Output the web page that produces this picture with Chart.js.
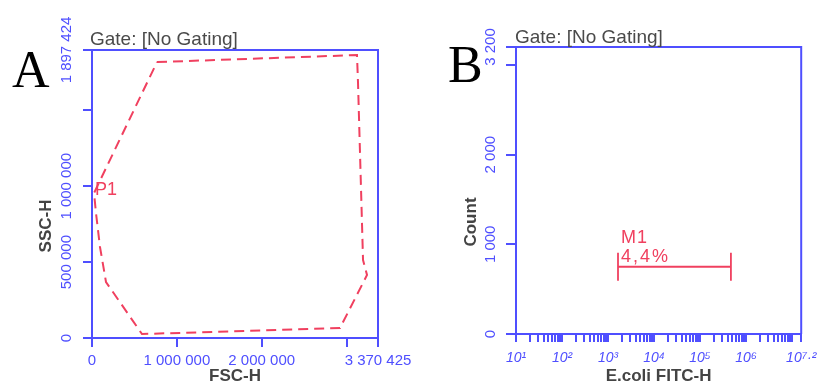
<!DOCTYPE html>
<html><head><meta charset="utf-8">
<script src="https://cdn.jsdelivr.net/npm/chart.js@4"></script>
<style>
html,body{margin:0;padding:0;background:#fff;}
body{width:817px;height:385px;position:relative;overflow:hidden;font-family:"Liberation Sans",Arial,sans-serif;}
.panel{position:absolute;top:0;height:385px;}
.txt{position:absolute;white-space:nowrap;}
.letter{font-family:"Liberation Serif","Times New Roman",serif;font-size:52px;line-height:52px;color:#000;}
.gate{font-size:19px;line-height:19px;color:#4a4a4a;}
.ytitle{font-size:17px;line-height:17px;font-weight:bold;color:#444;transform:translate(-50%,-50%) rotate(-90deg);}
</style></head><body>
<div class="panel" style="left:0;width:420px"><canvas id="cA" width="420" height="385"></canvas></div>
<div class="panel" style="left:420px;width:397px"><canvas id="cB" width="397" height="385"></canvas></div>
<div class="txt letter" style="left:12px;top:44px">A</div>
<div class="txt letter" style="left:448px;top:39px">B</div>
<div class="txt gate" style="left:90px;top:29px">Gate: [No Gating]</div>
<div class="txt gate" style="left:515px;top:27px">Gate: [No Gating]</div>
<div class="txt ytitle" style="left:45px;top:226px">SSC-H</div>
<div class="txt ytitle" style="left:470px;top:222px">Count</div>
<script>
// ---------- Panel A: FSC-H vs SSC-H gate ----------
const fscTicks = [0, 1000000, 2000000, 3000000, 3370425];
const fscTickLabels = ['0', '1 000 000', '2 000 000', '', '3 370 425'];
const sscTicks = [0, 500000, 1000000, 1500000, 1897424];
const sscTickLabels = ['0', '500 000', '1 000 000', '', '1 897 424'];
const gateName = 'P1';
const gateFSC = [766000, 3123000, 3135000, 3194000, 3241000, 2923000, 589000, 165000, 94000, 47000, 24000];
const gateSSC = [1818000, 1864000, 1680000, 514000, 415000, 66000, 26000, 369000, 600000, 824000, 955000];

// ---------- Panel B: E.coli FITC-H histogram ----------
const fitcDecades = [1, 2, 3, 4, 5, 6, 7];
const fitcMinor = [2, 3, 4, 5, 6, 7, 8, 9];
const fitcMaxExp = 7.2;
const fitcLabels = ['10¹', '10²', '10³', '10⁴', '10⁵', '10⁶', '', '10⁷·²'];
const countTicks = [0, 1000, 2000, 3000, 3200];
const countTickLabels = ['0', '1 000', '2 000', '', '3 200'];
const markerName = 'M1';
const markerPct = '4,4%';
const markerRange = [1650, 470000];
const markerCount = 750;

const BLUE = '#4f4fff';
const RED = '#f0405f';
const TICKFONT = '15px "Liberation Sans", Arial, sans-serif';

const frameAndYLabels = {
  id: 'frameAndYLabels',
  afterDraw(chart) {
    const {ctx, chartArea: a} = chart;
    const ys = chart.scales.y;
    ctx.save();
    ctx.strokeStyle = BLUE; ctx.lineWidth = 2;
    ctx.beginPath();
    ctx.moveTo(a.left, a.top); ctx.lineTo(a.right, a.top); ctx.lineTo(a.right, a.bottom);
    ctx.stroke();
    ctx.fillStyle = BLUE; ctx.font = TICKFONT;
    ctx.textAlign = 'center'; ctx.textBaseline = 'middle';
    ys.ticks.forEach(t => {
      if (!t.label) return;
      const py = ys.getPixelForValue(t.value);
      ctx.save();
      ctx.translate(a.left - 25, py);
      ctx.rotate(-Math.PI / 2);
      ctx.fillText(t.label, 0, 0);
      ctx.restore();
    });
    ctx.restore();
  }
};

const nameLabels = {
  id: 'nameLabels',
  afterDatasetsDraw(chart, args, o) {
    const {ctx} = chart;
    const xs = chart.scales.x, ys = chart.scales.y;
    ctx.save();
    ctx.fillStyle = RED;
    ctx.font = '18px "Liberation Sans", Arial, sans-serif';
    ctx.textAlign = 'left'; ctx.textBaseline = 'alphabetic';
    (o.items || []).forEach(it => {
      const px = xs.getPixelForValue(it.x), py = ys.getPixelForValue(it.y);
      ctx.letterSpacing = (it.spacing || 0) + 'px';
      ctx.fillText(it.text, px + it.dx, py + it.dy);
    });
    ctx.restore();
  }
};

function fixedTicks(values) {
  return scale => { scale.ticks = values.map(v => ({value: v})); };
}
function labelFrom(values, labels) {
  return value => { const i = values.indexOf(value); return i >= 0 ? labels[i] : ''; };
}

const gatePoints = gateFSC.map((x, i) => ({x, y: gateSSC[i]}));
gatePoints.push({x: gateFSC[0], y: gateSSC[0]});
const lastGate = gateFSC.length - 1;

new Chart(document.getElementById('cA'), {
  type: 'scatter',
  data: {datasets: [{
    data: gatePoints, showLine: true, borderColor: RED, borderWidth: 2,
    borderDash: [10, 6], pointRadius: 0, fill: false, tension: 0
  }]},
  options: {
    responsive: false, animation: false,
    layout: {padding: {left: 0, top: 50, right: 42, bottom: 0}},
    plugins: {
      legend: {display: false}, tooltip: {enabled: false},
      nameLabels: {items: [{text: gateName, x: gateFSC[lastGate], y: gateSSC[lastGate], dx: 1, dy: 2}]}
    },
    scales: {
      x: {
        type: 'linear', min: 0, max: fscTicks[fscTicks.length - 1],
        afterBuildTicks: fixedTicks(fscTicks),
        afterFit: s => { s.height = 47; s.paddingLeft = 0; s.paddingRight = 0; },
        ticks: {color: BLUE, font: {family: '"Liberation Sans", Arial, sans-serif', size: 15},
          padding: 5, autoSkip: false, maxRotation: 0, minRotation: 0,
          callback: labelFrom(fscTicks, fscTickLabels)},
        grid: {drawOnChartArea: false, tickLength: 9, color: BLUE, lineWidth: 2},
        border: {color: BLUE, width: 2},
        title: {display: true, text: 'FSC-H', color: '#444', padding: 0,
          font: {family: '"Liberation Sans", Arial, sans-serif', size: 17, weight: 'bold', lineHeight: 1}}
      },
      y: {
        type: 'linear', min: 0, max: sscTicks[sscTicks.length - 1],
        afterBuildTicks: fixedTicks(sscTicks),
        afterFit: s => { s.width = 92; s.paddingTop = 0; s.paddingBottom = 0; },
        ticks: {display: false, autoSkip: false, callback: labelFrom(sscTicks, sscTickLabels)},
        grid: {drawOnChartArea: false, tickLength: 9, color: BLUE, lineWidth: 2},
        border: {color: BLUE, width: 2}
      }
    }
  },
  plugins: [frameAndYLabels, nameLabels]
});

const fitcMax = Math.pow(10, fitcMaxExp);
const fitcTickValues = [];
fitcDecades.forEach(d => {
  fitcTickValues.push(Math.pow(10, d));
  fitcMinor.forEach(m => { const v = m * Math.pow(10, d); if (v < fitcMax) fitcTickValues.push(v); });
});
fitcTickValues.push(fitcMax);
fitcTickValues.sort((a, b) => a - b);
function fitcLabel(value) {
  if (Math.abs(value - fitcMax) / fitcMax < 1e-9) return fitcLabels[fitcLabels.length - 1];
  const i = fitcDecades.findIndex(d => Math.abs(value - Math.pow(10, d)) / value < 1e-9);
  return i >= 0 ? fitcLabels[i] : '';
}

new Chart(document.getElementById('cB'), {
  type: 'line',
  data: {datasets: [{
    data: [{x: markerRange[0], y: markerCount}, {x: markerRange[1], y: markerCount}],
    borderColor: RED, borderWidth: 1.8, pointStyle: 'line', rotation: 90,
    pointRadius: 14, pointBorderColor: RED, pointBorderWidth: 1.8, fill: false
  }]},
  options: {
    responsive: false, animation: false,
    layout: {padding: {left: 0, top: 47, right: 13, bottom: 0}},
    plugins: {
      legend: {display: false}, tooltip: {enabled: false},
      nameLabels: {items: [
        {text: markerName, x: markerRange[0], y: markerCount, dx: 3, dy: -24, spacing: 1},
        {text: markerPct, x: markerRange[0], y: markerCount, dx: 3, dy: -5, spacing: 2}
      ]}
    },
    scales: {
      x: {
        type: 'logarithmic', min: Math.pow(10, fitcDecades[0]), max: fitcMax,
        afterBuildTicks: fixedTicks(fitcTickValues),
        afterFit: s => { s.height = 51; s.paddingLeft = 0; s.paddingRight = 0; },
        ticks: {color: BLUE, font: {family: '"Liberation Sans", Arial, sans-serif', size: 14, style: 'italic'},
          padding: 8, autoSkip: false, maxRotation: 0, minRotation: 0, callback: fitcLabel},
        grid: {drawOnChartArea: false, tickLength: 8, color: BLUE, lineWidth: 2},
        border: {color: BLUE, width: 2},
        title: {display: true, text: 'E.coli FITC-H', color: '#444', padding: 0,
          font: {family: '"Liberation Sans", Arial, sans-serif', size: 17, weight: 'bold', lineHeight: 1}}
      },
      y: {
        type: 'linear', min: 0, max: countTicks[countTicks.length - 1],
        afterBuildTicks: fixedTicks(countTicks),
        afterFit: s => { s.width = 96; s.paddingTop = 0; s.paddingBottom = 0; },
        ticks: {display: false, autoSkip: false, callback: labelFrom(countTicks, countTickLabels)},
        grid: {drawOnChartArea: false, tickLength: 10, color: BLUE, lineWidth: 2},
        border: {color: BLUE, width: 2}
      }
    }
  },
  plugins: [frameAndYLabels, nameLabels]
});
</script>
</body></html>
